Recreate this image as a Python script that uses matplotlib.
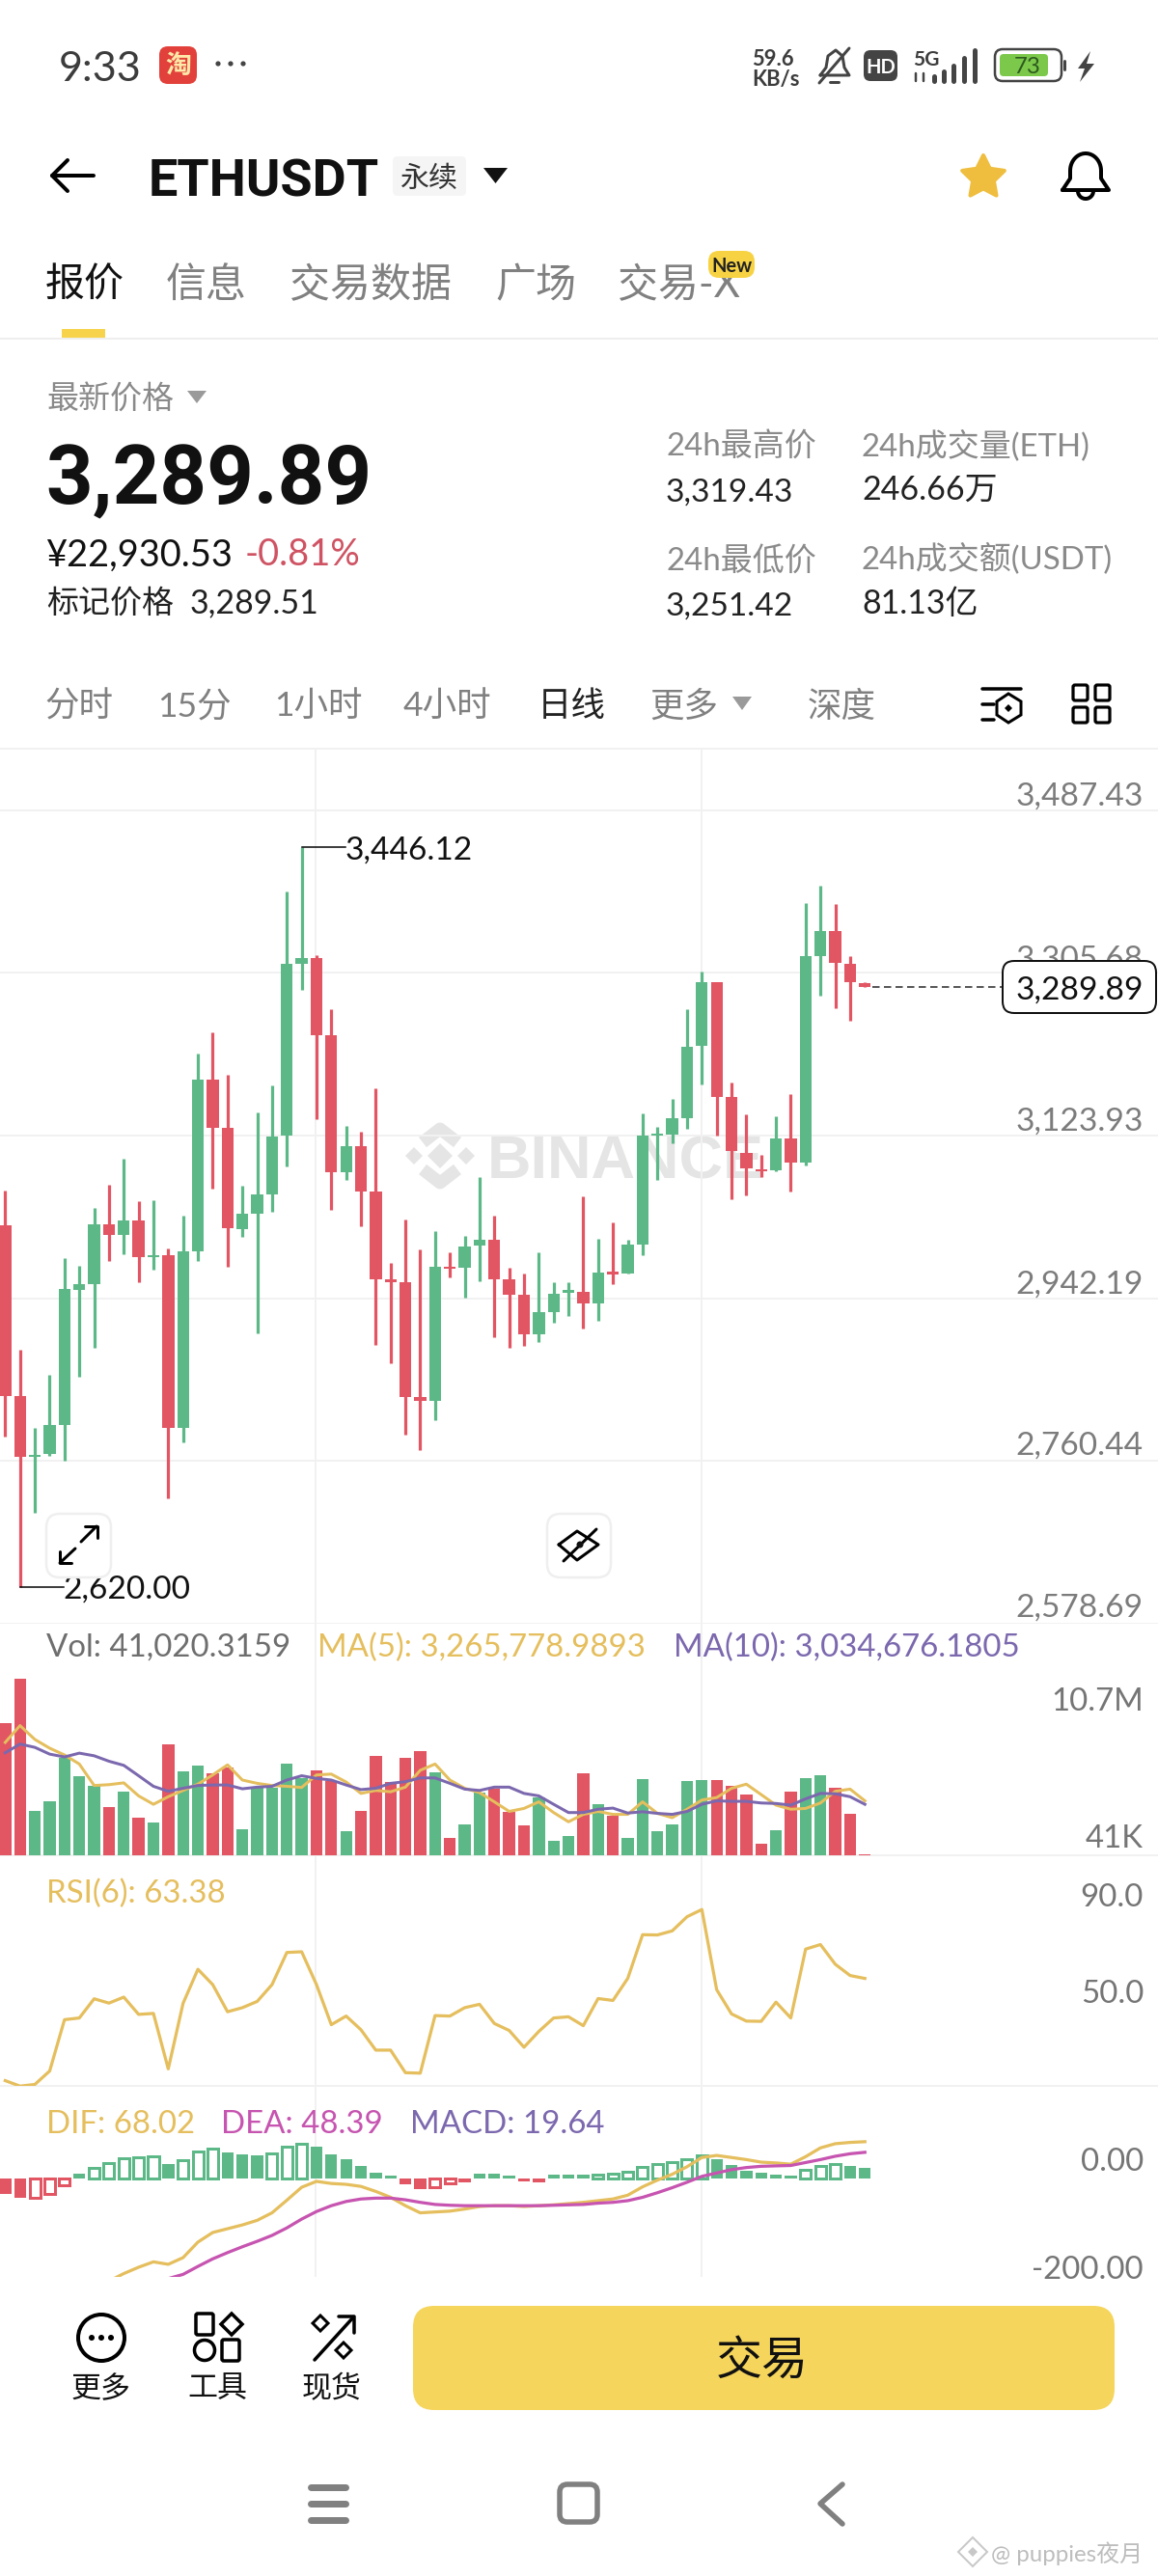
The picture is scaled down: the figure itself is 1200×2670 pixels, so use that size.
import numpy as np
import matplotlib
matplotlib.use("Agg")
import matplotlib.pyplot as plt
from matplotlib.patches import FancyBboxPatch, Circle, Polygon, Rectangle, RegularPolygon

# ---------- data ----------
highs = [3063.0,2884.8,2797.0,2856.4,2986.9,2978.9,3043.2,3069.2,3098.3,3050.6,3051.9,2998.0,3034.5,3215.8,3239.3,3192.3,3068.0,3149.6,3179.9,3397.1,3446.12,3325.9,3264.7,3134.8,3128.0,3176.8,2981.3,3030.2,2996.8,3017.8,2993.1,3011.6,3077.2,3034.5,2975.8,2969.6,2993.7,2959.7,2959.7,3056.2,3008.6,3027.1,3007.3,3148.4,3134.2,3165.1,3265.3,3307.4,3295.0,3183.0,3147.8,3102.0,3145.9,3170.0,3383.5,3403.3,3382.9,3324.7,3295.0]
lows = [2787.7,2620.0,2702.9,2766.0,2761.1,2855.1,2886.7,2983.8,2991.9,2960.3,2973.9,2718.4,2780.9,2983.8,3064.9,2977.6,3011.0,2903.4,3038.9,3089.0,3286.4,3142.8,3040.7,3074.8,3022.8,2890.4,2870.0,2789.5,2772.8,2806.2,2965.2,2943.0,2960.9,2899.0,2886.7,2889.2,2892.9,2914.5,2922.6,2908.3,2917.6,2957.8,2970.2,2990.6,3074.8,3115.0,3131.7,3180.6,3123.6,3053.1,3056.8,3077.2,3084.0,3061.8,3090.8,3280.2,3265.9,3251.7,3289.4]
opens = [3023.4,2832.8,2764.8,2768.5,2800.7,2951.6,2957.8,3024.6,3013.5,3029.6,2988.1,2990.0,2797.0,2994.3,3186.7,3132.3,3019.7,3036.4,3058.1,3123.6,3316.1,3322.2,3235.6,3083.4,3112.5,3061.8,2963.4,2960.3,2831.6,2827.3,2977.6,2976.4,3001.1,3007.9,2963.4,2946.1,2902.1,2926.9,2948.5,2949.2,2936.2,2972.1,2970.2,3002.4,3123.6,3124.9,3143.4,3223.9,3295.0,3166.9,3105.1,3086.5,3085.3,3121.2,3093.9,3324.1,3352.6,3316.1,3293.8]
closes = [2832.8,2764.8,2767.3,2800.7,2952.3,2957.8,3024.6,3013.5,3029.6,2988.1,2990.6,2797.0,2994.3,3186.7,3132.3,3020.3,3036.4,3058.1,3123.0,3316.1,3322.2,3236.2,3083.4,3112.5,3061.8,2963.4,2959.7,2831.6,2827.9,2977.6,2975.1,2999.9,3007.9,2963.4,2946.1,2902.1,2926.9,2947.3,2951.6,2936.2,2971.4,2969.0,3001.8,3123.6,3126.1,3143.4,3223.2,3295.0,3167.6,3106.3,3087.1,3084.0,3121.2,3093.9,3324.1,3352.6,3316.7,3295.0,3289.89]
volumes = [7.99,10.70,2.69,3.27,5.91,4.77,4.23,2.94,3.88,2.26,1.98,6.72,5.07,5.42,4.99,5.32,1.60,4.11,4.11,5.58,4.69,5.17,4.49,1.44,2.69,6.03,4.46,5.88,6.34,5.02,1.04,1.85,3.80,4.06,2.61,1.80,3.50,0.89,1.14,4.97,3.12,2.41,1.06,4.61,1.44,1.85,4.51,4.56,4.54,4.23,3.68,0.68,1.52,3.85,4.69,4.84,4.11,2.54,0.041]
vol_ma5 = [6.84,7.86,7.02,6.49,6.08,5.53,4.23,4.28,4.39,3.60,3.09,3.55,3.93,4.31,4.87,5.48,4.56,4.36,4.23,4.18,4.11,4.87,4.92,4.44,3.75,3.93,3.85,4.13,5.15,5.53,4.56,4.06,3.80,3.24,2.66,2.84,3.24,2.59,2.03,2.48,2.66,2.48,2.48,3.24,2.54,2.28,2.79,3.35,3.50,4.06,4.31,3.68,3.04,2.79,2.84,3.17,3.88,4.01,3.30]
vol_ma10 = [6.21,6.74,6.54,6.13,5.96,6.19,6.03,5.70,5.45,4.82,4.18,3.88,4.06,4.23,4.26,4.26,4.03,4.13,4.18,4.56,4.82,4.66,4.56,4.26,3.98,4.06,4.36,4.46,4.69,4.69,4.36,4.01,3.93,4.13,4.13,3.75,3.60,3.09,2.59,2.59,2.79,2.86,2.56,2.64,2.54,2.48,2.66,3.09,3.30,3.27,3.27,3.17,3.14,3.04,3.42,3.75,3.73,3.55,3.09]
rsi6 = [20.8,18.5,19.2,24.8,46.2,46.9,54.9,53.1,55.6,48.4,48.8,25.7,53.0,67.2,60.8,49.5,51.2,53.8,60.8,74.2,74.5,60.8,44.1,47.7,42.0,33.5,33.5,24.1,23.9,47.9,47.7,51.2,52.6,44.6,41.7,34.7,41.3,46.9,47.4,43.7,55.0,54.2,63.4,81.6,81.5,83.2,89.1,92.1,58.7,48.6,45.6,45.5,53.5,46.9,75.6,77.5,69.3,64.6,63.38]
macd_hist = [-29,-35,-36,-29,-12,8.5,19.4,28.7,37.2,38.8,40.3,27.1,33.3,50.4,55,48.8,44.9,43.4,46.5,59.7,64.3,58.9,44.2,34.9,24,10.9,5.4,-11.6,-19.4,-15.5,-9.3,-7,8.5,8.5,5.4,-4.7,-7,7,7,7,7.8,8.5,11.6,21.7,27.1,31,36.4,43.4,35.6,25.6,14,10,7.8,4.7,16.3,23.3,26.4,22.5,19.64]
macd_hollow = [2,3,4,6,7,8,9,10,12,13,14,18,19,20,29,30,40,41,42,43,44,45,46,47,54,55,56]
dif_start = 7
dif = [-189.9,-176.0,-164.3,-154.3,-158.9,-146.5,-117.8,-100.0,-93.0,-86.0,-77.5,-63.6,-40.3,-16.3,-5.4,-9.3,-10.9,-14.7,-24.0,-34.9,-50.4,-63.6,-62.0,-60.5,-56.6,-51.9,-50.4,-50.4,-51.9,-50.4,-48.8,-46.5,-44.2,-41.1,-38.0,-31.0,-15.5,-3.1,7.8,21.7,38.8,42.6,38.8,34.9,30.2,28.7,26.4,40.3,56.6,64.3,66.7,68.02]
dea_start = 11
dea = [-185.3,-177.5,-162.8,-148.8,-137.2,-126.4,-116.3,-105.4,-91.5,-75.2,-61.2,-50.4,-42.6,-38.0,-36.4,-36.4,-39.5,-44.2,-48.1,-49.6,-50.4,-50.4,-50.4,-50.4,-50.4,-50.4,-49.6,-48.8,-48.1,-45.7,-44.2,-41.1,-34.9,-26.4,-17.1,-7.0,3.9,10.1,16.3,20.2,22.5,23.3,24.0,29.5,34.9,41.1,45.7,48.39]
price_ticks = [3487.43,3305.68,3123.93,2942.19,2760.44,2578.69]
last_price = 3289.89

GREEN, RED = "#5DB888", "#E25563"
GOLD, PURPLE, MAGENTA = "#E5BE5D", "#7B68AE", "#C654B0"
GRID = "#F1F1F1"
GRAY = "#808080"
LAT = ["Lato", "Noto Sans CJK SC", "DejaVu Sans"]
W, H = 1200, 2670
PX = 0.72  # points per pixel at dpi 100

fig = plt.figure(figsize=(12, 26.7), dpi=100, facecolor="white")

def panel(top, bottom, z=1):
    a = fig.add_axes([0, 1 - bottom / H, 1, (bottom - top) / H], zorder=z)
    a.patch.set_alpha(0)
    a.set_xlim(-5.4 / 15.36, (W - 5.4) / 15.36)
    for s in a.spines.values():
        s.set_visible(False)
    a.set_xticks([])
    a.set_yticks([])
    return a

bg = fig.add_axes([0, 0, 1, 1], zorder=0)
bg.set_xlim(0, W); bg.set_ylim(H, 0); bg.axis("off")
ui = fig.add_axes([0, 0, 1, 1], zorder=5)
ui.set_xlim(0, W); ui.set_ylim(H, 0); ui.axis("off"); ui.patch.set_alpha(0)

def T(x, y, s, px, color="black", ha="left", weight="normal", ax=ui, z=3, family=LAT):
    return ax.text(x, y, s, fontsize=px * PX, color=color, ha=ha, va="center_baseline",
                   fontweight=weight, family=family, zorder=z)

def L(xs, ys, lw=3, color="black", ax=ui, z=3, cap="round"):
    ax.plot(xs, ys, color=color, lw=lw * PX, solid_capstyle=cap, solid_joinstyle="round", zorder=z)

def RR(x0, y0, x1, y1, r, fc="white", ec="none", lw=0, ax=ui, z=2):
    ax.add_patch(FancyBboxPatch((x0 + r, y0 + r), x1 - x0 - 2 * r, y1 - y0 - 2 * r,
                                boxstyle=f"round,pad={r},rounding_size={r}",
                                fc=fc, ec=ec, lw=lw * PX, zorder=z))

# ----- panels -----
P_TOP, P_BOT = 776, 1683
price_per_px = (price_ticks[0] - price_ticks[1]) / 168.6
ax_p = panel(P_TOP, P_BOT)
ax_p.set_ylim(price_ticks[-1], price_ticks[0] + (839.7 - P_TOP) * price_per_px)
ax_v = panel(1683, 1923); ax_v.set_ylim(0, 14.03)
ax_r = panel(1923, 2162); ax_r.set_ylim(18.6, 114.7)
ax_m = panel(2162, 2360); ax_m.set_ylim(-182.2, 171.3)

x = np.arange(len(closes))
up = np.array(closes) >= np.array(opens)
cols = [GREEN if u else RED for u in up]

for vx in (20.97, 46.98):
    for a in (ax_p, ax_v, ax_r, ax_m):
        a.axvline(vx, color=GRID, lw=2 * PX, zorder=0)
for t in price_ticks:
    ax_p.axhline(t, color=GRID, lw=2 * PX, zorder=0)
for yy in (776, 1923, 2162):
    L([0, W], [yy, yy], lw=2, color=GRID, ax=bg, cap="butt")

# watermark
WM = "#E5E5E5"
T(505, 1199, "BINANCE", 63, WM, weight="bold", ax=bg, family=["Liberation Sans"])
for cx, cy, s in ((456, 1198, 13), (429, 1198, 9), (483, 1198, 9)):
    bg.add_patch(RegularPolygon((cx, cy), 4, radius=s, fc=WM, ec="none"))
L([438, 456, 474], [1184, 1170, 1184], lw=13, color=WM, ax=bg, cap="butt")
L([438, 456, 474], [1212, 1226, 1212], lw=13, color=WM, ax=bg, cap="butt")

# candles
ax_p.vlines(x, lows, highs, colors=cols, lw=3.2 * PX, zorder=2)
body_lo = np.minimum(opens, closes)
body_h = np.abs(np.array(closes) - np.array(opens))
ax_p.bar(x, body_h, bottom=body_lo, width=0.8, color=cols, lw=0, zorder=3)

# extreme labels
i_hi = int(np.argmax(highs)); i_lo = int(np.argmin(lows))
for idx, val in ((i_hi, highs[i_hi]), (i_lo, lows[i_lo])):
    ax_p.plot([idx, idx + 2.95], [val, val], color="black", lw=1.5 * PX, zorder=4)
    ax_p.text(idx + 2.9, val, f"{val:,.2f}", fontsize=33.5 * PX, family=LAT,
              va="center_baseline", color="#111", zorder=4)

# current price dashed line
ax_p.plot([len(closes) - 0.5, 67.3], [last_price] * 2, color="#222", lw=1.5 * PX, dashes=(5, 3), zorder=2)

# price axis labels
for t, yy in zip(price_ticks, (823, 992, 1160, 1329, 1496, 1664)):
    T(1185, yy, f"{t:,.2f}", 33.5, "#7C7C7C", ha="right", z=1)
RR(1039, 996, 1198, 1050, 12, fc="white", ec="#111", lw=2, z=2)
T(1185, 1024, f"{last_price:,.2f}", 33.5, "#111", ha="right", z=3)

# volume
ax_v.bar(x, volumes, width=0.8, color=cols, lw=0, zorder=2)
ax_v.plot(x, vol_ma5, color=GOLD, lw=3 * PX, zorder=3)
ax_v.plot(x, vol_ma10, color=PURPLE, lw=3 * PX, zorder=4)
T(48, 1705, "Vol: 41,020.3159", 33, "#6E6E6E")
T(329, 1705, "MA(5): 3,265,778.9893", 33, GOLD)
T(698, 1705, "MA(10): 3,034,676.1805", 33, PURPLE)
T(1185, 1761, "10.7M", 33, "#757575", ha="right")
T(1185, 1903, "41K", 33, "#757575", ha="right")

# RSI
ax_r.plot(x, rsi6, color=GOLD, lw=3.2 * PX, solid_joinstyle="round", zorder=3)
T(48, 1960, "RSI(6): 63.38", 33, GOLD)
T(1185, 1964, "90.0", 33, "#757575", ha="right")
T(1185, 2064, "50.0", 33, "#757575", ha="right")

# MACD
for i, v in enumerate(macd_hist):
    c = GREEN if v >= 0 else RED
    if i in macd_hollow:
        ax_m.bar(i, v, width=0.72, facecolor="white", edgecolor=c, lw=3 * PX, zorder=2)
    else:
        ax_m.bar(i, v, width=0.8, color=c, lw=0, zorder=2)
ax_m.plot(np.arange(len(dif)) + dif_start, dif, color=GOLD, lw=3.2 * PX, zorder=3)
ax_m.plot(np.arange(len(dea)) + dea_start, dea, color=MAGENTA, lw=3.2 * PX, zorder=4)
T(48, 2199, "DIF: 68.02", 33, GOLD)
T(229, 2199, "DEA: 48.39", 33, MAGENTA)
T(425, 2199, "MACD: 19.64", 33, PURPLE)
T(1185, 2238, "0.00", 33, "#757575", ha="right")
T(1185, 2350, "-200.00", 33, "#757575", ha="right")

# ----- status bar -----
T(61, 68, "9:33", 43, "#3C3C3C")
RR(165, 48, 204, 87, 9, fc="#E2403A")
T(184.5, 66, "淘", 27, "#FFE9A8", ha="center", weight="bold")
for dx in (226, 239, 252):
    ui.add_patch(Circle((dx, 66), 2.6, fc="#444", ec="none"))
T(779, 60, "59.6", 22, "#3C3C3C", weight="bold")
T(779, 80, "KB/s", 22, "#3C3C3C", weight="bold")
L([850, 856, 858, 866, 873, 875, 880, 850], [78, 70, 58, 52, 58, 70, 78, 78], lw=3, color="#444")
L([849, 880], [86, 50], lw=3, color="#444")
L([860, 869], [85, 85], lw=3, color="#444")
RR(895, 52, 930, 84, 7, fc="#444")
T(912.5, 68, "HD", 20, "white", ha="center", weight="bold")
T(946, 60, "5G", 21, "#3C3C3C", weight="bold")
for bx, top in zip((968, 978, 988, 999, 1010), (79, 74, 68, 60, 52)):
    L([bx, bx], [top, 84], lw=5, color="#444")
L([949, 949], [76, 84], lw=2.5, color="#444")
L([957, 957], [76, 84], lw=2.5, color="#444")
RR(1031, 51, 1100, 84, 8, fc="white", ec="#444", lw=2.5)
RR(1036, 56, 1086, 79, 4, fc="#7CC84B")
T(1065, 68, "73", 24, "#2C5A1E", ha="center")
L([1103, 1103], [63, 72], lw=3, color="#444")
ui.add_patch(Polygon([[1130, 53], [1117, 71], [1124, 71], [1119, 85], [1134, 66], [1126, 66]], fc="#444", ec="none"))

# ----- nav -----
L([97, 54], [182, 182], lw=4)
L([70, 54, 70], [166, 182, 198], lw=4)
T(154, 183, "ETHUSDT", 54, "#111", weight="bold", family=["Roboto"])
RR(407, 162, 483, 203, 5, fc="#F5F5F5")
T(445, 183, "永续", 30, "#333", ha="center")
ui.add_patch(Polygon([[501, 174], [526, 174], [513.5, 190]], fc="#111", ec="none"))
ang = np.pi / 2 + np.arange(10) * np.pi / 5
rad = np.where(np.arange(10) % 2 == 0, 23, 11.5)
ui.add_patch(Polygon(np.c_[1019 + rad * np.cos(ang), 184 - rad * np.sin(ang)], fc="#EFBE3F", ec="#EFBE3F", lw=4 * PX, joinstyle="round", zorder=3))
th = np.linspace(np.pi, 2 * np.pi, 30)
bx = list(1125 + 16 * np.cos(th)); by = list(177 + 18 * np.sin(th))
L([1101, 1109] + bx + [1141, 1149, 1101], [197, 185] + by + [185, 197, 197], lw=4)
th2 = np.linspace(0, np.pi, 20)
L(list(1125 + 8 * np.cos(th2)), list(198 + 8 * np.sin(th2)), lw=4)

# ----- tabs -----
T(47, 292, "报价", 41, "#111", weight="medium")
for tx, s in ((172, "信息"), (300, "交易数据"), (513, "广场"), (640, "交易-X")):
    T(tx, 292, s, 42, "#808080")
RR(734, 260, 782, 288, 11, fc="#F7D344", z=4)
T(758, 274, "New", 20, "#222", ha="center", weight="bold", z=5)
ui.add_patch(Rectangle((64, 341), 45, 9, fc="#F7D34C", ec="none", zorder=3))
L([0, W], [351, 351], lw=2, color="#EEEEEE", cap="butt")

# ----- price header -----
T(48, 411, "最新价格", 33, "#8A8A8A")
ui.add_patch(Polygon([[194, 405], [214, 405], [204, 418]], fc="#9A9A9A", ec="none"))
T(47, 490, "3,289.89", 85, "#111", weight="bold", family=["Roboto"])
T(47, 572, "¥22,930.53", 38, "#111")
T(254, 572, "-0.81%", 38, "#CF5363")
T(48, 622, "标记价格", 33, "#222")
T(197, 622, "3,289.51", 34, "#222")
T(690, 460, "24h最高价", 33, "#8A8A8A")
T(690, 508, "3,319.43", 33.5, "#222")
T(690, 578, "24h最低价", 33, "#8A8A8A")
T(690, 626, "3,251.42", 33.5, "#222")
T(893, 459, "24h成交量(ETH)", 33, "#8A8A8A")
T(893, 505, "246.66万", 34, "#222")
T(893, 576, "24h成交额(USDT)", 33, "#8A8A8A")
T(893, 623, "81.13亿", 34, "#222")

# ----- interval tabs -----
for tx, s, c in ((46, "分时", "#808080"), (163, "15分", "#808080"), (284, "1小时", "#808080"),
                 (418, "4小时", "#808080"), (557, "日线", "#222"), (673, "更多", "#808080"), (837, "深度", "#808080")):
    T(tx, 729, s, 35.5, c)
ui.add_patch(Polygon([[759, 722], [779, 722], [769, 736]], fc="#9A9A9A", ec="none"))
L([1018, 1058], [714, 714], lw=3.5)
L([1018, 1030], [730, 730], lw=3.5)
L([1018, 1030], [746, 746], lw=3.5)
ui.add_patch(Polygon([[1045, 719], [1058, 727], [1058, 741], [1045, 749], [1033, 741], [1033, 727]], fc="white", ec="black", lw=3 * PX, zorder=3))
ui.add_patch(RegularPolygon((1045, 734), 4, radius=4, fc="black", ec="none", zorder=4))
for gx in (1112, 1135):
    for gy in (710, 733):
        RR(gx, gy, gx + 15, gy + 16, 2, fc="white", ec="black", lw=3.2)

# chart buttons
RR(48, 1569, 115, 1635, 14, fc="white", ec="#EFEFEF", lw=2.5)
L([84, 100], [1598, 1582], lw=3); L([88, 101, 101], [1582, 1582, 1594], lw=3)
L([62, 78], [1620, 1605], lw=3); L([62, 62, 74], [1608, 1620, 1620], lw=3)
RR(567, 1569, 633, 1635, 14, fc="white", ec="#EFEFEF", lw=2.5)
L([579, 598, 620, 598, 579], [1601, 1587, 1601, 1617, 1601], lw=3)
L([584, 618], [1618, 1585], lw=3)
ui.add_patch(Circle((601, 1601), 3.5, fc="#111", ec="none", zorder=3))

# ----- bottom bar -----
RR(428, 2390, 1155, 2498, 22, fc="#F5D55B")
T(790, 2442, "交易", 48, "#111", ha="center", weight="medium")
ui.add_patch(Circle((105, 2423), 24, fc="white", ec="black", lw=4 * PX, zorder=3))
for dx in (95, 105, 115):
    ui.add_patch(Circle((dx, 2423), 3, fc="black", ec="none", zorder=4))
T(105, 2473, "更多", 31, "#111", ha="center")
RR(203, 2398, 221, 2420, 2, fc="white", ec="black", lw=3.5)
ui.add_patch(RegularPolygon((240, 2409), 4, radius=11, fc="white", ec="black", lw=3.5 * PX, zorder=3))
ui.add_patch(Circle((212, 2436), 10.5, fc="white", ec="black", lw=3.5 * PX, zorder=3))
RR(230, 2425, 248, 2447, 2, fc="white", ec="black", lw=3.5)
T(225, 2473, "工具", 31, "#111", ha="center")
L([326, 366], [2446, 2402], lw=3.5)
L([351, 367, 367], [2401, 2401, 2418], lw=3.5)
ui.add_patch(RegularPolygon((332, 2408), 4, radius=8, fc="white", ec="black", lw=3 * PX, zorder=3))
ui.add_patch(RegularPolygon((356, 2436), 4, radius=8, fc="white", ec="black", lw=3 * PX, zorder=3))
T(344, 2473, "现货", 31, "#111", ha="center")

# system nav
for yy in (2578, 2595, 2612):
    L([322, 358], [yy, yy], lw=7, color=GRAY)
RR(580, 2575, 619, 2614, 8, fc="white", ec=GRAY, lw=5.5)
L([873, 850, 873], [2575, 2595, 2616], lw=5.5, color=GRAY)
T(1027, 2645, "@ puppies夜月", 24, "#BDBDBD")
ui.add_patch(RegularPolygon((1008, 2645), 4, radius=15, fc="white", ec="#C8C8C8", lw=2 * PX, zorder=3))
ui.add_patch(RegularPolygon((1008, 2645), 4, radius=5, fc="#C8C8C8", ec="none", zorder=4))

fig.savefig("out.png", dpi=100, facecolor="white")
